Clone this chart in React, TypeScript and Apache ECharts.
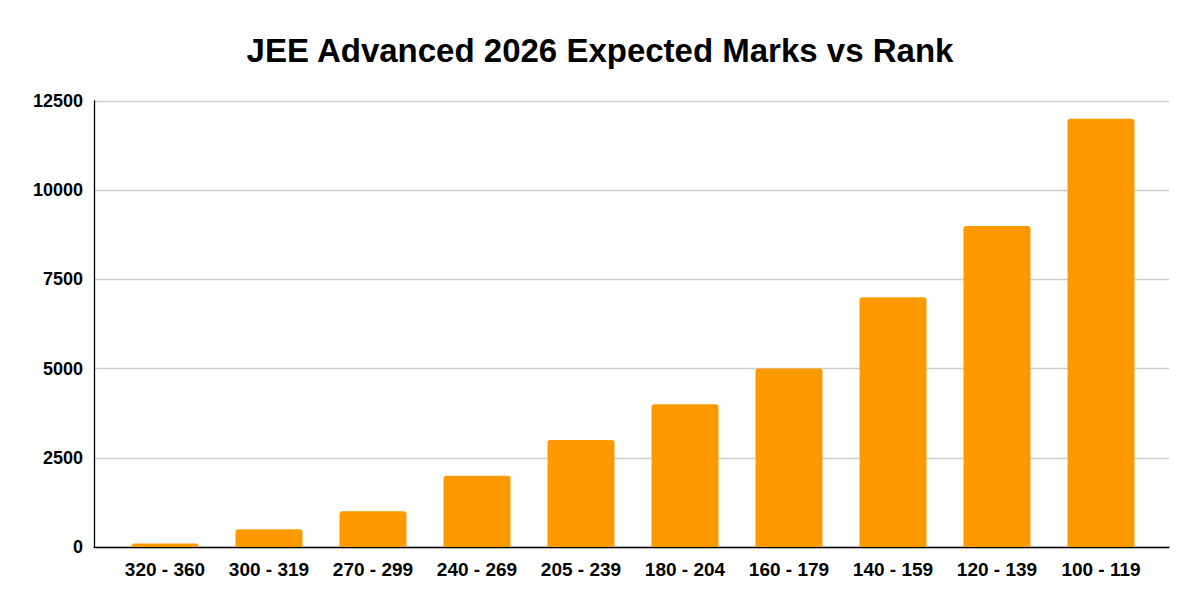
import React, { useEffect, useRef } from 'react';
import * as echarts from 'echarts';

const title = 'JEE Advanced 2026 Expected Marks vs Rank';
const marksRanges = [
  '320 - 360',
  '300 - 319',
  '270 - 299',
  '240 - 269',
  '205 - 239',
  '180 - 204',
  '160 - 179',
  '140 - 159',
  '120 - 139',
  '100 - 119',
];
const expectedRanks = [100, 500, 1000, 2000, 3000, 4000, 5000, 7000, 9000, 12000];
const rankMax = 12500;
const rankStep = 2500;

const FONT = 'Liberation Sans, Arial, sans-serif';

export default function App() {
  const chartRef = useRef<HTMLDivElement>(null);

  useEffect(() => {
    if (!chartRef.current) return;
    const chart = echarts.init(chartRef.current, null, { renderer: 'svg' });

    chart.setOption({
      animation: false,
      backgroundColor: '#ffffff',
      title: {
        text: title,
        left: 'center',
        top: 29,
        textStyle: {
          fontFamily: FONT,
          fontSize: 33,
          fontWeight: 'bold',
          color: '#000000',
        },
      },
      grid: [
        // frame: gridlines, y labels, axis lines
        { left: 94, right: 31, top: 101, bottom: 63 },
        // bars sit a bit inside the frame
        { left: 113, right: 47, top: 101, bottom: 63 },
      ],
      xAxis: [
        {
          gridIndex: 0,
          type: 'value',
          min: 0,
          max: 1,
          axisLine: { show: true, lineStyle: { color: '#000000', width: 1.3 } },
          axisTick: { show: false },
          axisLabel: { show: false },
          splitLine: { show: false },
        },
        {
          gridIndex: 1,
          type: 'category',
          data: marksRanges,
          axisLine: { show: false },
          axisTick: { show: false },
          axisLabel: {
            margin: 13,
            fontFamily: FONT,
            fontSize: 19,
            fontWeight: 'bold',
            color: '#000000',
            interval: 0,
          },
        },
      ],
      yAxis: [
        {
          gridIndex: 0,
          type: 'value',
          min: 0,
          max: rankMax,
          interval: rankStep,
          axisLine: { show: true, lineStyle: { color: '#000000', width: 1.3 } },
          axisTick: { show: false },
          axisLabel: {
            margin: 11,
            fontFamily: FONT,
            fontSize: 18,
            fontWeight: 'bold',
            color: '#000000',
            formatter: (v: number) => String(v),
          },
          splitLine: { show: true, lineStyle: { color: '#cccccc', width: 1.3 } },
        },
        {
          gridIndex: 1,
          type: 'value',
          min: 0,
          max: rankMax,
          show: false,
        },
      ],
      series: [
        {
          type: 'bar',
          xAxisIndex: 1,
          yAxisIndex: 1,
          data: expectedRanks,
          barWidth: 67,
          itemStyle: {
            color: '#ff9900',
            borderRadius: [3, 3, 0, 0],
          },
        },
      ],
    });

    return () => {
      chart.dispose();
    };
  }, []);

  return (
    <div
      ref={chartRef}
      style={{ position: 'absolute', left: 0, top: 0, width: '1200px', height: '610px' }}
    />
  );
}
